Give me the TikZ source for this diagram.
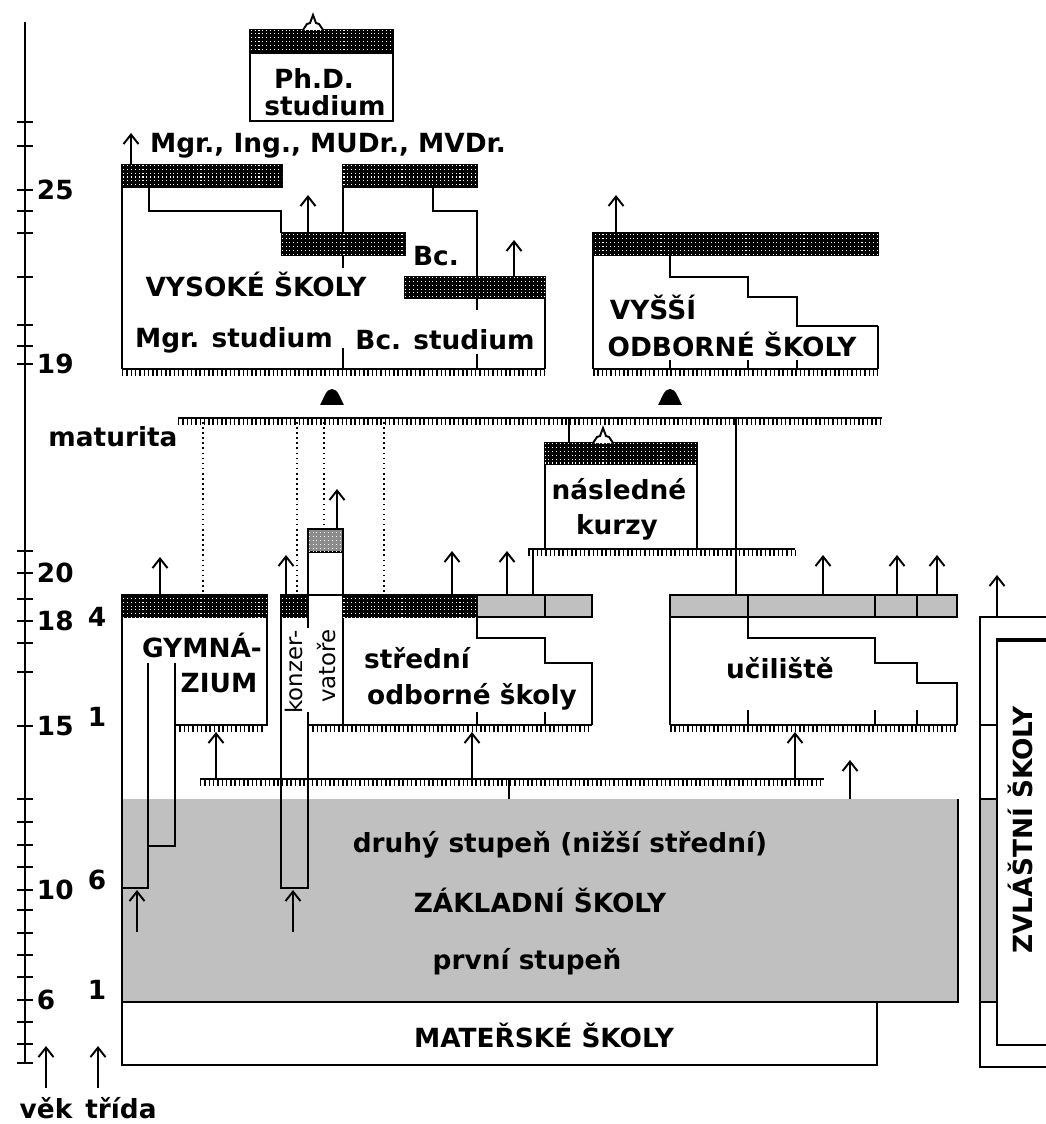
\documentclass[tikz,border=0pt]{standalone}
\usepackage{fontspec}
\setmainfont{DejaVu Sans}
\usetikzlibrary{arrows,arrows.meta,patterns}
\definecolor{sedy}{RGB}{192,192,192}
\pgfdeclarepatternformonly{raster}{\pgfpoint{-0.5pt}{-0.5pt}}{\pgfpoint{0.5pt}{0.5pt}}{\pgfpoint{2.2pt}{2.2pt}}%
{\pgfpathrectangle{\pgfpoint{-0.3pt}{-0.3pt}}{\pgfpoint{0.6pt}{0.6pt}}\pgfusepath{fill}}
\tikzset{bar/.style={fill=black,postaction={pattern=raster,pattern color=white}},
  lightbar/.style={fill=black!45,postaction={pattern=raster,pattern color=white}},
  greybar/.style={fill=sedy},
  teeth/.style={line width=0.12cm,dash pattern=on 0.85pt off 1.6pt},
  lbl/.style={font=\fontsize{15}{17}\selectfont\bfseries,inner sep=0pt},
  thin lbl/.style={font=\fontsize{13}{14}\selectfont,inner sep=0pt},
}
\newcommand\comb[3]{\draw (#1,#3) -- (#2,#3); \draw[teeth] (#1,#3+4) -- (#2,#3+4);}

\begin{document}
\begin{tikzpicture}[x=0.02cm,y=-0.02cm,line width=1.1pt,
    uparrow/.style={-{Straight Barb[length=1.9mm,width=3mm,line width=1.1pt]},line width=1.1pt},
    dots/.style={dotted,line width=0.9pt}]
\useasboundingbox (0,0) rectangle (1045,1124);

% osa
\draw (25,22) -- (25,1063);
\foreach \yy in {122,146,190,211,233,277,325,346,364,551,573,599,621,643,672,726,799,822,845,867,890,910,933,955,977,1000,1022,1044,1063}
  \draw (17,\yy) -- (33,\yy);
\foreach \age/\yy in {25/190,19/364,20/573,18/621,15/726,10/890,6/1000}
  \node[lbl,anchor=west] at (36,\yy) {\age};
\foreach \gr/\yy in {4/617,1/717,6/880,1/990}
  \node[lbl] at (97,\yy) {\gr};
\draw[uparrow] (46,1088) -- (46,1046);
\draw[uparrow] (98,1088) -- (98,1046);
\node[lbl] (vek) at (46,1108) {věk};
\node[lbl] (trida) at (121,1108) {třída};

% zakladni a materske skoly
\fill[sedy] (122,799) rectangle (958,1002);
\draw (958,799) -- (958,1002) -- (122,1002);
\node[lbl] (zs2) at (560,845) {druhý stupeň (nižší střední)};
\node[lbl] (zs) at (540,900) {ZÁKLADNÍ ŠKOLY};
\node[lbl] (zs1) at (527,962) {první stupeň};
\draw (122,1002) -- (122,1065) -- (877,1065) -- (877,1002);
\node[lbl] (ms) at (544,1035) {MATEŘSKÉ ŠKOLY};

% Ph.D.
\draw[bar] (250,30) rectangle (393,53);
\draw (250,53) rectangle (393,121);
\draw[fill=white] (303,30) -- (307,24) -- (310,23) -- (313,15) -- (316,23) -- (319,24) -- (323,30);
\node[lbl] (phd) at (314,78) {Ph.D.};
\node[lbl] at (325,106) {studium};

% vysoke skoly
\draw[bar] (122,165) rectangle (282,187);
\draw[bar] (343,165) rectangle (477,187);
\draw[bar] (282,233) rectangle (405,255);
\draw[bar] (405,277) rectangle (545,298);
\draw (122,187) -- (122,369);
\draw (545,298) -- (545,369);
\draw (149,187) |- (281,211) -- (281,233);
\draw (343,187) -- (343,233) (343,255) -- (343,268);
\draw (433,187) |- (477,211) -- (477,277);
\draw (477,298) -- (477,310);
\draw (343,348) -- (343,369) (477,354) -- (477,369);
\comb{122}{545}{369}
\draw[uparrow] (131,165) -- (131,133);
\draw[uparrow] (308,233) -- (308,195);
\draw[uparrow] (514,277) -- (514,240);
\node[lbl] (tituly) at (328,146) {Mgr., Ing., MUDr., MVDr.};
\node[lbl] (bc) at (436,256) {Bc.};
\node[lbl] (vs) at (256,284) {VYSOKÉ ŠKOLY};
\node[lbl] at (234,340) {Mgr. studium};
\node[lbl] at (445,340) {Bc. studium};
\fill (320,405) .. controls (324,398) and (326,389) .. (332,389) .. controls (338,389) and (340,398) .. (344,405) -- cycle;

% vyssi odborne skoly
\draw[bar] (593,233) rectangle (878,255);
\draw (593,255) -- (593,369);
\draw (878,326) -- (878,369);
\draw (670,255) |- (748,277) |- (797,297) |- (878,326);
\draw (670,360) -- (670,369) (748,360) -- (748,369) (797,360) -- (797,369);
\comb{593}{878}{369}
\draw[uparrow] (616,233) -- (616,195);
\node[lbl] (vos) at (653,307) {VYŠŠÍ};
\node[lbl] at (732,344) {ODBORNÉ ŠKOLY};
\fill (658,405) .. controls (662,398) and (664,389) .. (670,389) .. controls (676,389) and (678,398) .. (682,405) -- cycle;

% maturita
\comb{178}{882}{418}
\node[lbl] (mat) at (113,437) {maturita};
\foreach \xx in {203,297,384} \draw[dots] (\xx,422) -- (\xx,595);
\draw[dots] (324,422) -- (324,529);
\draw (569,418) -- (569,443);
\draw (736,418) -- (736,595);

% nasledne kurzy
\draw[bar] (545,443) rectangle (697,464);
\draw (545,464) -- (545,549) (697,464) -- (697,549);
\comb{528}{795}{549}
\draw (533,549) -- (533,595);
\draw[fill=white] (593,443) -- (597,437) -- (600,436) -- (603,428) -- (606,436) -- (609,437) -- (613,443);
\node[lbl] (nk) at (619,489) {následné};
\node[lbl] at (617,527) {kurzy};

% gymnazium
\draw[bar] (122,595) rectangle (267,617);
\draw (122,617) -- (122,1002);
\draw (267,617) -- (267,725) -- (175,725);
\draw (175,663) -- (175,846) -- (148,846);
\draw (148,663) -- (148,888) -- (122,888);
\comb{175}{264}{725}
\draw[uparrow] (160,595) -- (160,557);
\draw[uparrow] (137,932) -- (137,890);
\node[lbl] (gym) at (202,645) {GYMNÁ-};
\node[lbl] at (219,683) {ZIUM};

% konzervatore
\draw[bar] (281,595) rectangle (308,617);
\draw[lightbar] (308,529) rectangle (343,552);
\draw (308,595) -- (343,595);
\draw (308,552) -- (308,628);
\draw (308,712) -- (308,888) -- (281,888) -- (281,617);
\draw (343,552) -- (343,725);
\draw[uparrow] (286,595) -- (286,555);
\draw[uparrow] (337,529) -- (337,489);
\draw[uparrow] (293,932) -- (293,890);
\node[thin lbl,rotate=90] (konz) at (294,672) {konzer-};
\node[thin lbl,rotate=90] at (327,666) {vatoře};

% stredni odborne skoly
\draw[bar] (343,595) rectangle (477,617);
\draw[greybar] (477,595) rectangle (545,617);
\draw[greybar] (545,595) rectangle (592,617);
\draw (477,617) |- (545,638) |- (592,663) -- (592,725);
\draw (477,712) -- (477,725) (545,712) -- (545,725);
\comb{308}{592}{725}
\draw[uparrow] (452,595) -- (452,551);
\draw[uparrow] (507,595) -- (507,551);
\node[lbl] (sos) at (417,658) {střední};
\node[lbl] at (472,697) {odborné školy};

% uciliste
\draw[greybar] (670,595) rectangle (748,617);
\draw[greybar] (748,595) rectangle (875,617);
\draw[greybar] (875,595) rectangle (917,617);
\draw[greybar] (917,595) rectangle (957,617);
\draw (670,617) -- (670,725);
\draw (748,617) |- (875,638) |- (917,663) |- (957,683) -- (957,725);
\draw (748,710) -- (748,725) (875,710) -- (875,725) (917,710) -- (917,725);
\comb{670}{957}{725}
\foreach \xx in {823,897,937} \draw[uparrow] (\xx,595) -- (\xx,555);
\node[lbl] (uc) at (780,668) {učiliště};

% vystup ze zakladni skoly
\comb{200}{824}{779}
\draw (509,779) -- (509,799);
\foreach \xx in {216,472,795} \draw[uparrow] (\xx,779) -- (\xx,732);
\draw[uparrow] (850,799) -- (850,760);

% zvlastni skoly
\fill[sedy] (980,799) rectangle (997,1002);
\draw (1050,617) -- (980,617) -- (980,1067) -- (1050,1067);
\draw (1050,1045) -- (997,1045) -- (997,640);
\draw[line width=2pt] (996,640) -- (1050,640);
\draw (980,725) -- (997,725) (980,799) -- (997,799) (980,1002) -- (997,1002);
\draw[uparrow] (997,617) -- (997,575);
\node[lbl,rotate=90] (zvl) at (1020,830) {ZVLÁŠTNÍ ŠKOLY};
\end{tikzpicture}
\end{document}
